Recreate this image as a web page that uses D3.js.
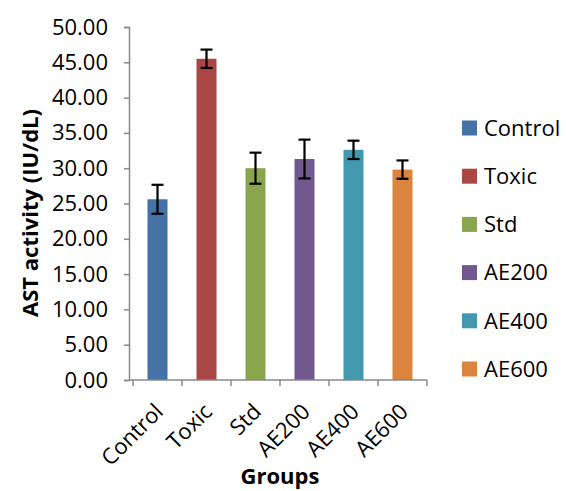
<!DOCTYPE html>
<html><head><meta charset="utf-8">
<script src="https://cdn.jsdelivr.net/npm/d3@7"></script>
<style>body{margin:0;background:#fff}svg{display:block}text{font-family:"Open Sans",sans-serif;fill:#000}</style>
</head><body><svg id="c" width="566" height="491"></svg>
<script>
const categories = ["Control","Toxic","Std","AE200","AE400","AE600"];
const values = [25.6, 45.5, 30.0, 31.3, 32.6, 29.8];
const errors = [2.05, 1.3, 2.2, 2.75, 1.3, 1.3];
const colors = ["#4572A7","#AA4643","#89A54E","#71588F","#4198AF","#DB843D"];
const yTicks = [0,5,10,15,20,25,30,35,40,45,50];

const svg = d3.select("#c");
const x = d3.scaleBand().domain(categories).range([133,427]).paddingInner(0).paddingOuter(0);
const y = d3.scaleLinear().domain([0,50]).range([380,27]);
const bw = 20;
const FS = "22px";

// bars
svg.selectAll("rect.bar").data(categories).enter().append("rect")
  .attr("x", d => x(d) + x.bandwidth()/2 - bw/2)
  .attr("y", (d,i) => y(values[i]))
  .attr("width", bw)
  .attr("height", (d,i) => y(0) - y(values[i]))
  .attr("fill", (d,i) => colors[i]);

// error bars
const eg = svg.append("g").attr("stroke","#000").attr("stroke-width",2.2);
categories.forEach((c,i) => {
  const cx = x(c) + x.bandwidth()/2;
  eg.append("line").attr("x1",cx).attr("x2",cx).attr("y1",y(values[i]+errors[i])).attr("y2",y(values[i]-errors[i]));
  eg.append("line").attr("x1",cx-6).attr("x2",cx+6).attr("y1",y(values[i]+errors[i])).attr("y2",y(values[i]+errors[i]));
  eg.append("line").attr("x1",cx-6).attr("x2",cx+6).attr("y1",y(values[i]-errors[i])).attr("y2",y(values[i]-errors[i]));
});

// y axis
const yAxis = d3.axisLeft(y).tickValues(yTicks).tickFormat(d3.format(".2f")).tickSize(5).tickPadding(16);
const gy = svg.append("g").attr("transform","translate(129,0)").call(yAxis);
gy.select(".domain").attr("stroke","#888").attr("stroke-width",1.5);
gy.selectAll(".tick line").attr("stroke","#888").attr("stroke-width",1.5);
gy.selectAll(".tick text").style("font-size",FS).attr("fill","#000");

// x axis
const gx = svg.append("g").attr("transform","translate(0,380)");
gx.append("line").attr("x1",129).attr("x2",427).attr("y1",0).attr("y2",0).attr("stroke","#888").attr("stroke-width",1.5);
const bounds = categories.map(c => x(c)).concat([x.range()[1]]);
gx.selectAll("line.t").data(bounds).enter().append("line")
  .attr("x1",d=>d).attr("x2",d=>d).attr("y1",0).attr("y2",6).attr("stroke","#888").attr("stroke-width",1.5);
gx.selectAll("text.xl").data(categories).enter().append("text")
  .attr("transform", d => `translate(${x(d)+x.bandwidth()/2+7},${33}) rotate(-45)`)
  .attr("text-anchor","end")
  .style("font-size",FS).text(d=>d);

// axis titles
svg.append("text").attr("transform","translate(38,213) rotate(-90)")
  .attr("text-anchor","middle").style("font-size",FS).style("font-weight","bold").text("AST activity (IU/dL)");
svg.append("text").attr("x",280).attr("y",484).attr("text-anchor","middle")
  .style("font-size",FS).style("font-weight","bold").text("Groups");

// legend
const lg = svg.append("g");
categories.forEach((c,i) => {
  const cy = 128 + i*48.2;
  lg.append("rect").attr("x",462).attr("y",cy-7.5).attr("width",15).attr("height",15).attr("fill",colors[i]);
  lg.append("text").attr("x",484).attr("y",cy).attr("dy","0.35em").style("font-size",FS).text(c);
});
</script></body></html>
